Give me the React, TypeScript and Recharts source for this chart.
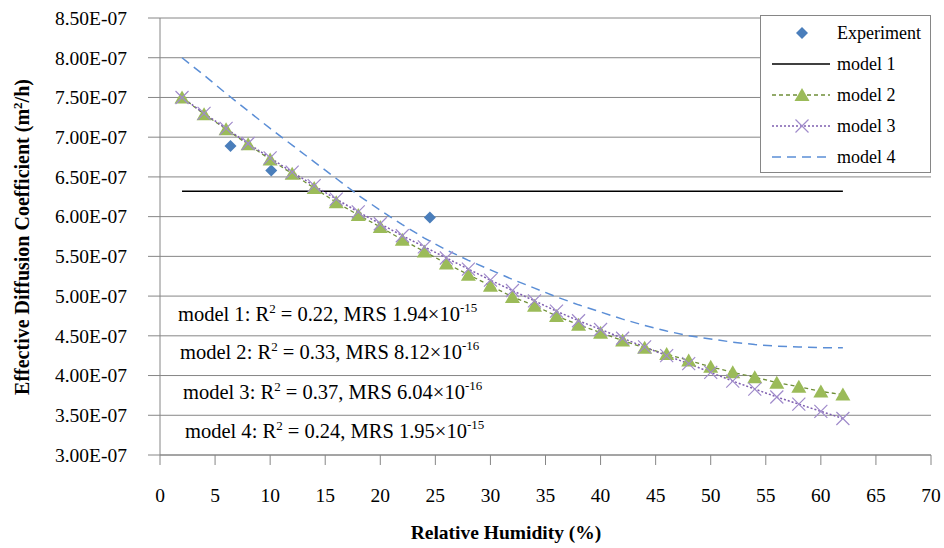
import { ComposedChart, Line, Scatter, XAxis, YAxis, CartesianGrid, Legend } from "recharts";

const FONT = "'Liberation Serif', 'Times New Roman', serif";
const AXIS = "#868686";
const E7 = 1e-7;
const TICK_PX = 19.5;

// relative humidity steps for the fitted curves (%)
const rh = [2, 4, 6, 8, 10, 12, 14, 16, 18, 20, 22, 24, 26, 28, 30, 32, 34, 36, 38, 40, 42, 44, 46, 48, 50, 52, 54, 56, 58, 60, 62];

// measured points, Deff in units of 1E-07 m2/h
const expRh = [6.4, 10.1, 24.5];
const expDeff = [6.89, 6.58, 5.99];

// model 1 is a constant fit
const model1Rh = [2, 62];
const model1 = [6.32, 6.32];

const model2 = [7.5, 7.29, 7.1, 6.91, 6.72, 6.54, 6.36, 6.18, 6.02, 5.87, 5.71, 5.56, 5.41, 5.27, 5.13, 4.99, 4.88, 4.75, 4.64, 4.54, 4.44, 4.35, 4.27, 4.19, 4.11, 4.04, 3.98, 3.91, 3.86, 3.8, 3.76];
const model3 = [7.5, 7.3, 7.11, 6.92, 6.74, 6.56, 6.39, 6.22, 6.06, 5.91, 5.76, 5.62, 5.48, 5.34, 5.2, 5.07, 4.94, 4.81, 4.69, 4.58, 4.47, 4.36, 4.25, 4.15, 4.04, 3.93, 3.83, 3.73, 3.64, 3.55, 3.46];
const model4 = [8.0, 7.78, 7.55, 7.33, 7.11, 6.9, 6.69, 6.48, 6.27, 6.08, 5.9, 5.73, 5.58, 5.45, 5.33, 5.21, 5.1, 4.99, 4.89, 4.8, 4.71, 4.63, 4.56, 4.5, 4.46, 4.42, 4.39, 4.37, 4.36, 4.35, 4.35];

const xTicks = [0, 5, 10, 15, 20, 25, 30, 35, 40, 45, 50, 55, 60, 65, 70];
const yTicks = [3.0, 3.5, 4.0, 4.5, 5.0, 5.5, 6.0, 6.5, 7.0, 7.5, 8.0, 8.5];

const fitNames = ["model 1", "model 2", "model 3", "model 4"];
const fitR2 = ["0.22", "0.33", "0.37", "0.24"];
const fitMrs = ["1.94", "8.12", "6.04", "1.95"];
const fitExp = ["-15", "-16", "-16", "-15"];

const toPoints = (xs: number[], ys: number[]) => xs.map((x, i) => ({ x, y: ys[i] * E7 }));

const expData = toPoints(expRh, expDeff);
const m1Data = toPoints(model1Rh, model1);
const m2Data = toPoints(rh, model2);
const m3Data = toPoints(rh, model3);
const m4Data = toPoints(rh, model4);

const fmtY = (v: number) => `${(v / E7).toFixed(2)}E-07`;

const triPath = (cx: number, cy: number) => `M${cx},${cy - 7} L${cx + 7.5},${cy + 6} L${cx - 7.5},${cy + 6} Z`;
const crossPath = (cx: number, cy: number) =>
  `M${cx - 6.5},${cy - 6.5} L${cx + 6.5},${cy + 6.5} M${cx - 6.5},${cy + 6.5} L${cx + 6.5},${cy - 6.5}`;
const diamondPath = (cx: number, cy: number) => `M${cx},${cy - 6} L${cx + 6},${cy} L${cx},${cy + 6} L${cx - 6},${cy} Z`;

const TriangleDot = (p: any) => {
  if (p.cx == null || p.cy == null) return <g key={`t${p.index}`} />;
  return <path key={`t${p.index}`} d={triPath(p.cx, p.cy)} fill="#9bbb59" />;
};

const CrossDot = (p: any) => {
  if (p.cx == null || p.cy == null) return <g key={`c${p.index}`} />;
  return <path key={`c${p.index}`} d={crossPath(p.cx, p.cy)} stroke="#a08bcb" strokeWidth={1.2} fill="none" />;
};

const Diamond = (p: any) => <path d={diamondPath(p.cx, p.cy)} fill="#4a7ebb" />;

// tick labels drawn by hand so the font size sticks
const YTick = (p: any) => (
  <text x={p.x} y={p.y} dy="0.35em" textAnchor="end" fontFamily={FONT} fontSize={TICK_PX} fill="#000">
    {fmtY(p.payload.value)}
  </text>
);

const XTick = (p: any) => (
  <text x={p.x} y={p.y} dy="0.72em" textAnchor="middle" fontFamily={FONT} fontSize={TICK_PX} fill="#000">
    {p.payload.value}
  </text>
);

function YTitle() {
  return (
    <text
      transform="rotate(-90)"
      x={-237}
      y={29}
      textAnchor="middle"
      fontFamily={FONT}
      fontWeight="bold"
      fontSize={20}
      fill="#000"
    >
      Effective Diffusion Coefficient (m
      <tspan dy={-7} fontSize={13}>2</tspan>
      <tspan dy={7}>/h)</tspan>
    </text>
  );
}

function XTitle() {
  return (
    <text x={506} y={539} textAnchor="middle" fontFamily={FONT} fontWeight="bold" fontSize={19.5} fill="#000">
      Relative Humidity (%)
    </text>
  );
}

const noteX = [178, 180, 183, 185];
const noteY = [321, 359, 399, 438];

function FitNotes() {
  return (
    <g fontFamily={FONT} fontSize={20.5} fill="#000">
      {fitNames.map((name, i) => (
        <text key={name} x={noteX[i]} y={noteY[i]}>
          {name}: R
          <tspan dy={-8} fontSize={13}>2</tspan>
          <tspan dy={8}>{` = ${fitR2[i]}, MRS ${fitMrs[i]}×10`}</tspan>
          <tspan dy={-9} fontSize={13}>{fitExp[i]}</tspan>
        </text>
      ))}
    </g>
  );
}

const legendRows = ["Experiment", "model 1", "model 2", "model 3", "model 4"];

function LegendBox() {
  const rowY = (i: number) => 18 + i * 31;
  return (
    <svg width={171} height={158} style={{ display: "block" }}>
      <rect x={0.5} y={0.5} width={170} height={157} fill="#fff" stroke={AXIS} />
      <path d={diamondPath(42, rowY(0))} fill="#4a7ebb" />
      <line x1={12} x2={70} y1={rowY(1)} y2={rowY(1)} stroke="#000" strokeWidth={1.5} />
      <line x1={12} x2={70} y1={rowY(2)} y2={rowY(2)} stroke="#6f8f38" strokeWidth={1.3} strokeDasharray="4 3" />
      <path d={triPath(42, rowY(2))} fill="#9bbb59" />
      <line x1={12} x2={70} y1={rowY(3)} y2={rowY(3)} stroke="#7f5fb0" strokeWidth={1.5} strokeDasharray="2 2" />
      <path d={crossPath(42, rowY(3))} stroke="#a08bcb" strokeWidth={1.2} fill="none" />
      <line x1={12} x2={70} y1={rowY(4)} y2={rowY(4)} stroke="#5b8ed6" strokeWidth={1.5} strokeDasharray="9 6" />
      {legendRows.map((name, i) => (
        <text key={name} x={77} y={rowY(i) + 6} fontFamily={FONT} fontSize={18} fill="#000">
          {name}
        </text>
      ))}
    </svg>
  );
}

export default function App() {
  return (
    <div
      style={{
        position: "absolute",
        left: 0,
        top: 0,
        width: 944,
        height: 548,
        background: "#fff",
        fontFamily: FONT,
        fontSize: TICK_PX,
      }}
    >
      <ComposedChart width={944} height={548} margin={{ top: 18, right: 13, bottom: 0, left: 0 }}>
        <CartesianGrid vertical={false} stroke={AXIS} strokeWidth={1} />
        <XAxis
          type="number"
          dataKey="x"
          domain={[0, 70]}
          ticks={xTicks}
          interval={0}
          height={93}
          stroke={AXIS}
          tickSize={10}
          tickMargin={23}
          tick={XTick}
          label={<XTitle />}
        />
        <YAxis
          type="number"
          dataKey="y"
          domain={[3 * E7, 8.5 * E7]}
          ticks={yTicks.map((v) => v * E7)}
          interval={0}
          width={160}
          stroke={AXIS}
          tickSize={12}
          tickMargin={21}
          tick={YTick}
          label={<YTitle />}
        />
        <FitNotes />
        <Line data={m1Data} dataKey="y" stroke="#000" strokeWidth={1.5} dot={false} isAnimationActive={false} />
        <Line
          data={m2Data}
          dataKey="y"
          stroke="#6f8f38"
          strokeWidth={1.3}
          strokeDasharray="4 3"
          dot={TriangleDot}
          activeDot={false}
          isAnimationActive={false}
        />
        <Line
          data={m3Data}
          dataKey="y"
          stroke="#7f5fb0"
          strokeWidth={1.5}
          strokeDasharray="2 2"
          dot={CrossDot}
          activeDot={false}
          isAnimationActive={false}
        />
        <Line
          data={m4Data}
          dataKey="y"
          stroke="#5b8ed6"
          strokeWidth={1.5}
          strokeDasharray="9 6"
          dot={false}
          isAnimationActive={false}
        />
        <Scatter data={expData} dataKey="y" shape={Diamond} isAnimationActive={false} />
        <Legend
          layout="vertical"
          align="center"
          verticalAlign="middle"
          content={() => <LegendBox />}
          wrapperStyle={{ left: 760, top: 15, width: 171, height: 158 }}
        />
      </ComposedChart>
    </div>
  );
}
